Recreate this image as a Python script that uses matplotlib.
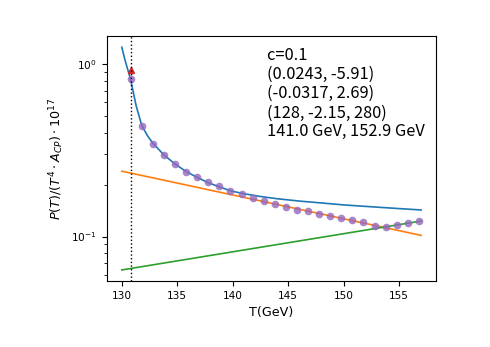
import numpy as np
import matplotlib
matplotlib.use('Agg')
import matplotlib.pyplot as plt

# fitted curve
T_fit = [130.0, 130.3, 130.55, 130.8, 131.3, 131.8, 132.3, 132.8, 133.8, 134.8,
         135.8, 136.8, 137.8, 138.8, 139.8, 141.0, 142.5, 144.0, 146.0, 148.0,
         150.0, 153.0, 157.0]
P_fit = [1.247, 1.045, 0.92, 0.81, 0.57, 0.44, 0.385, 0.347, 0.297, 0.263,
         0.238, 0.220, 0.205, 0.194, 0.184, 0.177, 0.1706, 0.1656, 0.1605, 0.1565,
         0.1525, 0.148, 0.1425]

# straight pieces (exponentials)
T_line = [130.0, 157.0]
P_orange = [0.239, 0.1016]
P_green = [0.0641, 0.123]

# data points
T_pts = [130.8, 131.8, 132.8, 133.8, 134.8, 135.8, 136.8, 137.8, 138.8, 139.8,
         140.8, 141.8, 142.8, 143.8, 144.8, 145.8, 146.8, 147.8, 148.8, 149.8,
         150.8, 151.8, 152.8, 153.8, 154.8, 155.8, 156.8]
P_pts = [0.812, 0.436, 0.345, 0.296, 0.262, 0.2368, 0.2208, 0.2058, 0.196, 0.1825,
         0.176, 0.1677, 0.1605, 0.1536, 0.1476, 0.1424, 0.140, 0.135, 0.131, 0.128,
         0.1255, 0.1208, 0.1156, 0.113, 0.117, 0.1195, 0.1227]

T_mark = 130.8
P_mark = 0.923

# zero-width space keeps the CJK font from kerning 'c' into '='
txt = "c\u200b=0.1\n(0.0243, -5.91)\n(-0.0317, 2.69)\n(128, -2.15, 280)\n141.0 GeV, 152.9 GeV"

fig = plt.figure(figsize=(4.9, 3.47), dpi=100)
ax = fig.add_axes([0.218, 0.190, 0.672, 0.706])

ax.plot(T_fit, P_fit, color='C0', lw=1.2)
ax.plot(T_line, P_orange, color='C1', lw=1.2)
ax.plot(T_line, P_green, color='C2', lw=1.2)
ax.plot(T_pts, P_pts, 'o', color='C4', alpha=0.8, ms=5.5, mec='none')
ax.plot([T_mark], [P_mark], '^', color='C3', ms=4)
ax.axvline(T_mark, color='k', ls=':', lw=1)

ax.set_yscale('log')
ax.set_xlabel('T(GeV)', fontsize=9.2)
ax.set_ylabel(r'$P(T)/(T^4\cdot A_{CP})\cdot 10^{17}$', fontsize=9.2)
ax.tick_params(labelsize=7.6)

ax.text(0.485, 0.955, txt, transform=ax.transAxes, va='top', ha='left',
        fontsize=11.8, family=['Noto Sans CJK SC', 'DejaVu Sans'], linespacing=1.16)

fig.savefig('out.png', dpi=100)
